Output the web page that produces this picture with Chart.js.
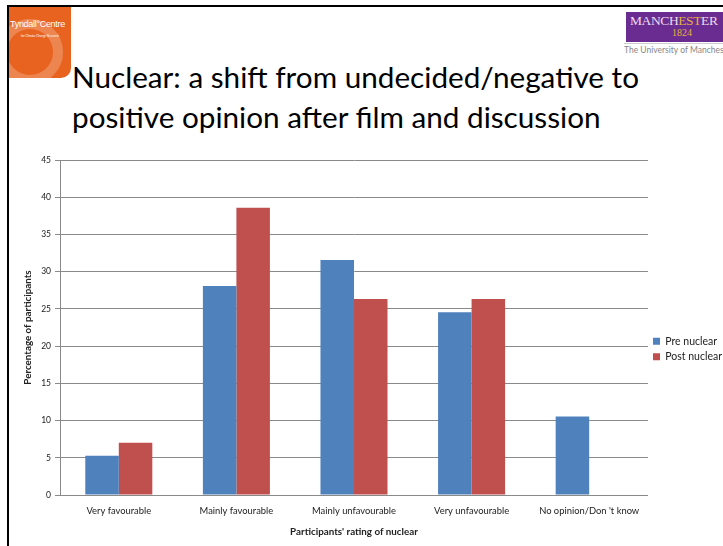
<!DOCTYPE html>
<html>
<head>
<meta charset="utf-8">
<script src="https://cdn.jsdelivr.net/npm/chart.js@4.4.1/dist/chart.umd.min.js"></script>
<style>
  html, body { margin: 0; padding: 0; background: #fff; }
  body { width: 723px; height: 546px; position: relative; overflow: hidden; font-family: Lato, sans-serif; }
  .marco-sup { position: absolute; left: 7px; top: 5px; width: 716px; height: 2px; background: #000; }
  .marco-izq { position: absolute; left: 7px; top: 5px; width: 2px; height: 541px; background: #000; }
  /* logo Tyndall */
  .tyndall { position: absolute; left: 9px; top: 7px; width: 62px; height: 71px; background: #e8631f;
             border-bottom-right-radius: 10px; overflow: hidden; }
  .tyndall .aro { position: absolute; left: -12px; top: 12px; width: 46px; height: 46px; border-radius: 50%;
                  border: 10px solid rgba(255,255,255,0.22); }
  .tyndall .nombre { position: absolute; left: 1px; top: 12px; color: #fff; font-size: 9px; white-space: nowrap;
                     font-family: 'Liberation Sans', sans-serif; letter-spacing: -0.3px; }
  .tyndall .sub { position: absolute; left: 12px; top: 27px; color: #fff; font-size: 3px; white-space: nowrap; }
  /* logo Manchester */
  .manchester { position: absolute; left: 626px; top: 12px; width: 97px; height: 30px; background: #6a2c91; overflow: hidden; }
  .manchester .m1 { position: absolute; left: 4px; top: 1px; color: #eadcf0; font-family: 'Liberation Serif', serif;
                    font-size: 13.5px; white-space: nowrap; letter-spacing: -0.4px; }
  .manchester .m1 span { color: #e2b23c; }
  .manchester .m2 { position: absolute; left: 46px; top: 15px; color: #e2b23c; font-family: 'Liberation Serif', serif; font-size: 10px; }
  .univ { position: absolute; left: 624px; top: 43px; width: 99px; overflow: hidden; white-space: nowrap;
          font-size: 8.5px; color: #888; border-top: 1px solid #ccc; padding-top: 1px; }
  .titulo { position: absolute; left: 72px; top: 57px; font-size: 29.7px; line-height: 40px; color: #000; white-space: nowrap; }
  .grafico { position: absolute; left: 10px; top: 150px; width: 722px; height: 396px; }
</style>
</head>
<body>
<div class="marco-sup"></div>
<div class="marco-izq"></div>
<div class="tyndall">
  <div class="aro"></div>
  <div class="nombre">Tyndall°Centre</div>
  <div class="sub">for Climate Change Research</div>
</div>
<div class="manchester">
  <div class="m1">MANCH<span>EST</span>ER</div>
  <div class="m2">1824</div>
</div>
<div class="univ">The University of Manchester</div>
<div class="titulo">Nuclear: a shift from undecided/negative to<br>positive opinion after film and discussion</div>
<div class="grafico"><canvas id="grafico" width="722" height="396"></canvas></div>

<script>
// Categorías y porcentajes de participantes (antes y después de la película)
const categorias = ['Very favourable', 'Mainly favourable', 'Mainly unfavourable', 'Very unfavourable', "No opinion/Don 't know"];
const preNuclear = [5.26, 28.07, 31.58, 24.56, 10.53];
const postNuclear = [7.02, 38.6, 26.32, 26.32, 0];
const ticksY = [0, 5, 10, 15, 20, 25, 30, 35, 40, 45];

const fuente = 'Lato, sans-serif';
Chart.defaults.font.family = fuente;
Chart.defaults.color = '#222';

const ctx = document.getElementById('grafico').getContext('2d');
window.chart = new Chart(ctx, {
  type: 'bar',
  data: {
    labels: categorias,
    datasets: [
      { label: 'Pre nuclear', data: preNuclear, backgroundColor: '#4f81bd' },
      { label: 'Post nuclear', data: postNuclear, backgroundColor: '#c0504d' }
    ]
  },
  options: {
    responsive: false,
    animation: false,
    devicePixelRatio: 1,
    // el relleno inferior sube un poco la leyenda; el eje x compensa con su altura
    layout: { padding: { top: 10, right: 0, left: 12, bottom: 8 } },
    datasets: { bar: { barPercentage: 1, categoryPercentage: 0.57 } },
    plugins: {
      legend: {
        position: 'right',
        labels: { boxWidth: 7, boxHeight: 7, padding: 5, font: { size: 10.5 }, color: '#222' }
      },
      tooltip: { enabled: false }
    },
    scales: {
      x: {
        grid: { display: false },
        border: { color: '#8a8a8a' },
        ticks: { font: { size: 9.4 }, color: '#222', maxRotation: 0, padding: 2 },
        title: { display: true, text: "Participants' rating of nuclear", font: { size: 9.8, weight: 'bold' }, color: '#222', padding: { top: 0, bottom: 0 } },
        afterFit: function (escala) { escala.height = 43; }
      },
      y: {
        min: 0,
        max: 45,
        afterBuildTicks: function (escala) { escala.ticks = ticksY.map(v => ({ value: v })); },
        grid: { color: '#8a8a8a', tickLength: 5 },
        border: { color: '#8a8a8a' },
        ticks: { font: { size: 8.5 }, color: '#222', padding: 4 },
        title: { display: true, text: 'Percentage of participants', font: { size: 9.8, weight: 'bold' }, color: '#222', padding: 0 },
        afterFit: function (escala) { escala.width = 38; }
      }
    }
  }
});
</script>
</body>
</html>
